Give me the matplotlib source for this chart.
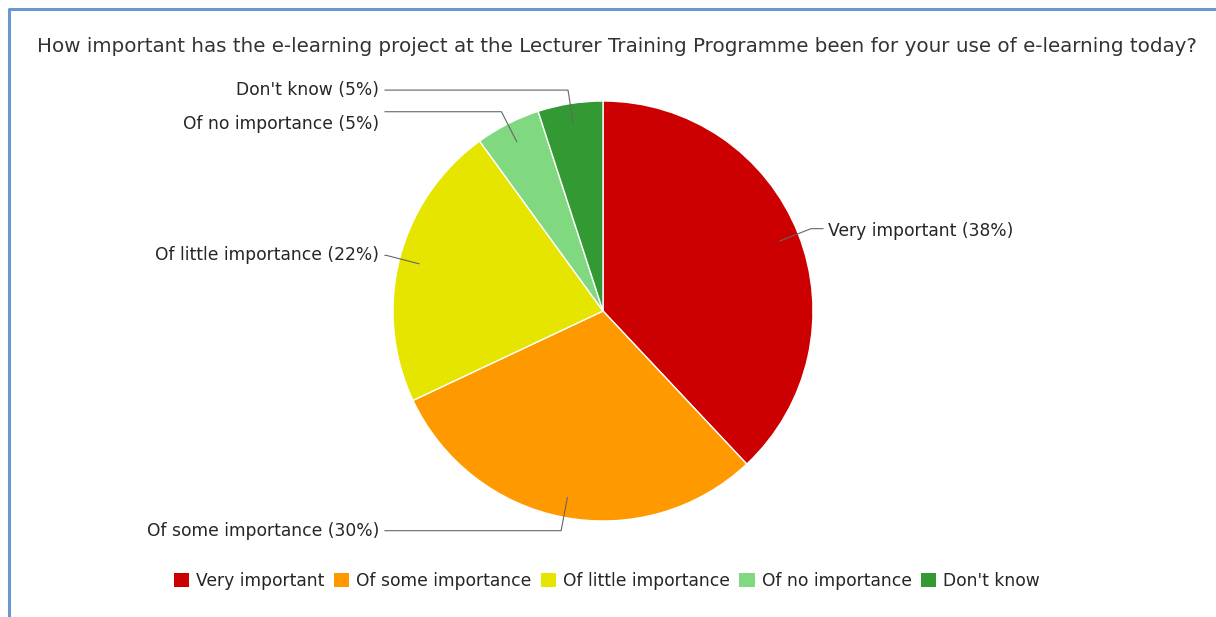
import numpy as np
import matplotlib
matplotlib.use('Agg')
import matplotlib.pyplot as plt
from matplotlib.patches import Patch

plt.rcParams['font.family'] = ['DejaVu Sans']

# data
categories = ['Very important', 'Of some importance', 'Of little importance',
              'Of no importance', "Don't know"]
percent = [38, 30, 22, 5, 5]
colors = ['#cc0000', '#ff9900', '#e5e500', '#80d980', '#339933']
title = 'How important has the e-learning project at the Lecturer Training Programme been for your use of e-learning today?'

W, H = 1216, 617
fig = plt.figure(figsize=(W / 100, H / 100), dpi=100)
ax = fig.add_axes([0, 0, 1, 1])

cx, cy, R = 603, H - 311, 210  # pie centre / radius in pixel units (y up)
ax.pie(percent, colors=colors, startangle=90, counterclock=False,
       center=(cx, cy), radius=R,
       wedgeprops=dict(edgecolor='white', linewidth=1.0))
ax.set_xlim(0, W)
ax.set_ylim(0, H)
ax.set_aspect('equal')
ax.axis('off')

# blue frame (left + top)
ax.plot([9, 9, W], [0, H - 9, H - 9], color='#6a96d4', lw=2.2, solid_capstyle='butt',
        clip_on=False)

# title
ax.text(37, H - 47, title, fontsize=14.3, color='#333333', ha='left', va='center')

# labels with leader lines
txt_size = 12.3
frac = np.array(percent) / sum(percent)
start = np.concatenate([[0], np.cumsum(frac)[:-1]])
mids = 90 - (start + frac / 2) * 360
left_items = []
for i, a in enumerate(mids):
    t = np.deg2rad(a)
    c, s = np.cos(t), np.sin(t)
    p_in = (cx + 0.905 * R * c, cy + 0.905 * R * s)
    p_el = (cx + 1.065 * R * c, cy + 1.065 * R * s)
    lab = '%s (%d%%)' % (categories[i], percent[i])
    if c >= 0:
        ax.plot([p_in[0], p_el[0], 823], [p_in[1], p_el[1], p_el[1]], color='#666666', lw=0.8)
        ax.text(828, p_el[1] - 2, lab, fontsize=txt_size, color='#262626', ha='left', va='center')
    else:
        ax.plot([p_in[0], p_el[0], 385], [p_in[1], p_el[1], p_el[1]], color='#666666', lw=0.8)
        left_items.append([p_el[1], lab])

# keep left labels from overlapping
left_items.sort(key=lambda v: -v[0])
prev = None
for item in left_items:
    y = item[0]
    if prev is not None and prev - y < 34:
        y = prev - 34
    ax.text(379, y, item[1], fontsize=txt_size, color='#262626', ha='right', va='center')
    prev = y

handles = [Patch(facecolor=c, edgecolor='none') for c in colors]
fig.legend(handles, categories, loc='center', bbox_to_anchor=(607 / W, 1 - 581 / H),
           ncol=5, frameon=False, fontsize=txt_size, handlelength=0.9, handleheight=0.9,
           handletextpad=0.4, columnspacing=0.55, labelcolor='#262626')

fig.savefig('out.png', dpi=100)
